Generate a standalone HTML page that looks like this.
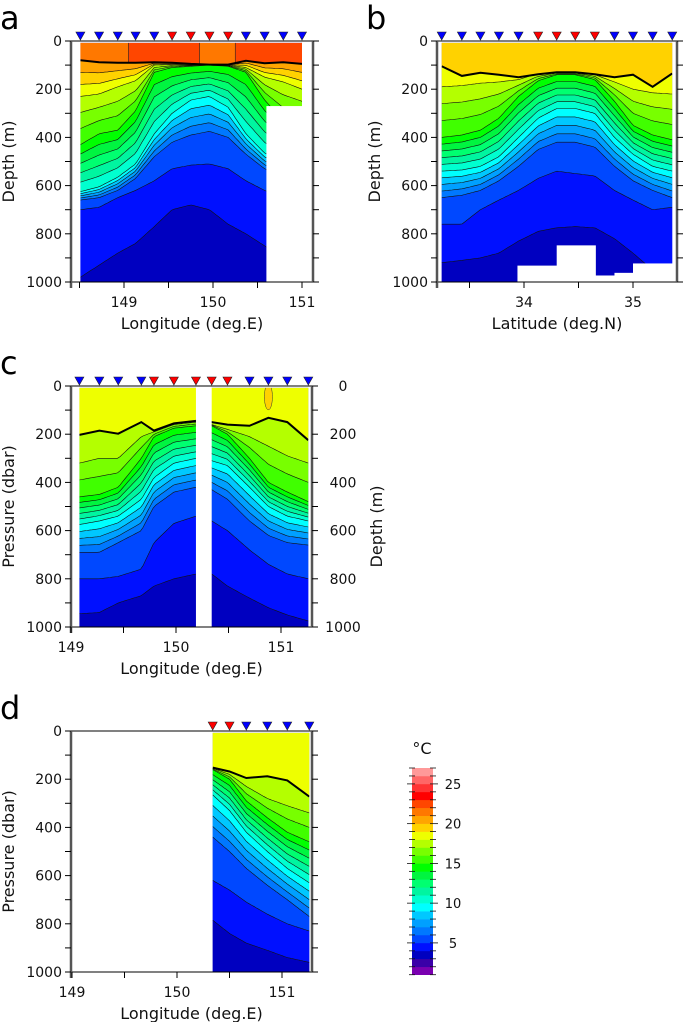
<!DOCTYPE html>
<html><head><meta charset="utf-8">
<style>
html,body{margin:0;padding:0;background:#fff;}
svg{display:block;font-family:"DejaVu Sans","Liberation Sans",sans-serif;}
</style></head>
<body>
<svg id="root" width="685" height="1022" viewBox="0 0 685 1022" xmlns="http://www.w3.org/2000/svg">
<defs id="defs"></defs>
</svg>
<script>
// ---------- Panel a (longitude section, depth) ----------
const aLon=[148.51,148.72,148.93,149.13,149.34,149.54,149.75,149.96,150.17,150.37,150.58,150.79,151.0];
const aMarker=['b','b','b','b','b','r','r','r','r','b','b','b','b'];
const aAnchorT=[21,18,15,10,6,5,4,3];
const aMld=[80,88,90,90,88,90,95,98,98,82,92,88,95];
const aT18=[230,220,190,165,100,98,98,100,100,110,150,170,200];
const aT15=[430,385,370,290,130,110,105,100,105,130,245,330,350];
const aT10=[625,605,565,510,385,300,245,230,275,385,465,500,500];
const aT6=[660,650,620,570,480,420,390,375,400,470,530,560,560];
const aT5=[700,690,650,620,580,530,515,510,530,580,620,650,650];
const aT4=[980,930,880,840,770,700,680,700,760,800,850,900,900];
const aT3=[1100,1100,1100,1100,1100,1100,1100,1100,1100,1100,1100,1100,1100];
const aSurfFrom=[148.51,149.05,149.85,150.25];
const aSurfTo=[149.05,149.85,150.25,151.0];
const aSurfT=[21,22,21,22];
const aNoDataFrom=[150.6];
const aNoDataTo=[151.0];
const aNoDataDepth=[270];

// ---------- Panel b (latitude section, depth) ----------
const bLat=[33.245,33.43,33.6,33.77,33.95,34.13,34.30,34.47,34.65,34.83,35.0,35.18,35.36];
const bMarker=['b','b','b','b','b','r','r','r','r','b','b','b','b'];
const bAnchorT=[19,18,15,10,6,5,4,3];
const bMld=[105,145,132,140,150,138,130,130,138,150,140,190,135];
const bT18=[190,185,175,170,160,135,130,130,140,170,200,215,220];
const bT15=[400,390,370,320,230,165,140,140,160,250,350,390,410];
const bT10=[540,535,520,480,400,320,280,280,300,400,470,520,540];
const bT6=[650,640,620,580,520,450,420,420,440,520,580,620,650];
const bT5=[760,760,700,660,620,570,540,550,560,620,660,700,690];
const bT4=[920,910,900,880,830,790,775,770,775,820,880,950,980];
const bT3=[1100,1100,1100,1100,1100,1100,1100,1100,1100,1100,1100,1100,1100];
const bNoDataFrom=[33.94,34.30,34.65,34.83,35.0];
const bNoDataTo=[34.30,34.65,34.83,35.0,35.37];
const bNoDataDepth=[932,848,973,962,923];

// ---------- Panel c (longitude section, pressure) ----------
const cLon=[149.08,149.27,149.45,149.67,149.79,149.98,150.19,150.34,150.49,150.70,150.88,151.06,151.26];
const cMarker=['b','b','b','b','r','r','r','r','r','b','b','b','b'];
const cAnchorT=[18,17,15,10,6,5,4,3];
const cMld=[203,185,198,150,185,155,145,150,160,165,132,150,225];
const cT17=[320,300,300,210,190,160,150,160,180,210,250,290,320];
const cT15=[460,450,420,300,210,175,165,165,200,300,400,440,480];
const cT10=[575,560,540,470,380,320,300,310,330,420,500,540,560];
const cT6=[690,690,650,600,500,440,420,430,470,560,620,650,660];
const cT5=[800,800,790,760,650,570,540,560,600,680,740,780,800];
const cT4=[945,940,900,870,830,800,780,780,830,880,920,950,975];
const cT3=[1100,1100,1100,1100,1100,1100,1100,1100,1100,1100,1100,1100,1100];
const cGapFrom=[150.19];
const cGapTo=[150.34];

// ---------- Panel d (longitude section, pressure) ----------
const dLon=[150.34,150.50,150.66,150.86,151.05,151.26];
const dMarker=['r','r','b','b','b','b'];
const dAnchorT=[18,17,15,10,6,5,4,3];
const dMld=[152,168,195,188,205,272];
const dT17=[155,180,230,280,310,340];
const dT15=[160,200,290,360,420,460];
const dT10=[265,330,420,500,570,630];
const dT6=[440,500,570,640,700,770];
const dT5=[620,660,710,760,800,830];
const dT4=[785,840,880,910,940,960];
const dT3=[1100,1100,1100,1100,1100,1000];

// ---------- Colour scale ----------
const cbLevels=[1,2,3,4,5,6,7,8,9,10,11,12,13,14,15,16,17,18,19,20,21,22,23,24,25,26];
const cbColors=['#7a00b0','#3a00a8','#0000c0','#0010ff','#0048ff','#0078ff','#00a0ff','#00c8ff','#00ffff','#00ffd0','#00f5a0','#00ff70','#00f540','#00ff00','#40ff00','#78ff00','#b4ff00','#eeff00','#ffd200','#ffa500','#ff7800','#ff4600','#ff0000','#ff3333','#ff6666','#ff9999'];
const cbTickLabels=[5,10,15,20,25];

const NS='http://www.w3.org/2000/svg';
const root=document.getElementById('root');
function mk(tag,attrs,parent){const e=document.createElementNS(NS,tag);for(const k in attrs)e.setAttribute(k,attrs[k]);(parent||root).appendChild(e);return e;}
function colorOf(T){const i=Math.max(0,Math.min(cbColors.length-1,Math.floor(T)-1));return cbColors[i];}
function lerpArr(xs,ys,x){if(x<=xs[0])return ys[0];for(let i=0;i<xs.length-1;i++){if(x<=xs[i+1]){const f=(x-xs[i])/(xs[i+1]-xs[i]);return ys[i]+f*(ys[i+1]-ys[i]);}}return ys[ys.length-1];}
function depthOf(T,anchT,D){
  if(T>=anchT[0])return D[0];
  for(let i=0;i<anchT.length-1;i++){if(T>=anchT[i+1]){const f=(anchT[i]-T)/(anchT[i]-anchT[i+1]);return D[i]+f*(D[i+1]-D[i]);}}
  return D[D.length-1]+(anchT[anchT.length-1]-T)*150;
}

function drawPanel(p){
  const g=mk('g',{});
  
  
  const sx=v=>p.px0+(v-p.v0)*p.ppu;
  const sy=z=>p.y0+z*0.241;
  const xs=p.st, N=90;
  const first=xs[0], last=xs[xs.length-1];
  const cols=[];
  for(let i=0;i<=N;i++){
    const v=first+(last-first)*i/N;
    const D=p.depths.map(arr=>lerpArr(xs,arr,v));
    for(let j=1;j<D.length;j++)D[j]=Math.max(D[j],D[j-1]);
    cols.push({v,D});
  }
  const clipId='clip-'+p.name;
  const cp=mk('clipPath',{id:clipId},document.getElementById('defs'));
  mk('rect',{x:sx(first),y:sy(8),width:sx(last)-sx(first),height:sy(1000)-sy(8)},cp);
  const fg=mk('g',{'clip-path':'url(#'+clipId+')'},g);
  const bg=mk('rect',{x:sx(first),y:sy(0),width:sx(last)-sx(first),height:sy(1000)-sy(0),fill:colorOf(3.5)},fg);
  
  
  const Ttop=p.anchT[0];
  const cl=d=>Math.min(1000,d);
  for(let k=2;k<Ttop;k++){
    let pts=[];
    cols.forEach(c=>pts.push(sx(c.v).toFixed(1)+','+sy(cl(depthOf(k+1,p.anchT,c.D))).toFixed(1)));
    for(let i=cols.length-1;i>=0;i--){const c=cols[i];pts.push(sx(c.v).toFixed(1)+','+sy(cl(depthOf(k,p.anchT,c.D))).toFixed(1));}
    const band=mk('polygon',{points:pts.join(' '),fill:colorOf(k+0.5),stroke:colorOf(k+0.5),'stroke-width':0.4},fg);
    
    
  }
  // surface mixed layer
  const segs=p.surf;
  segs.forEach(s=>{
    const mldA=lerpArr(xs,p.depths[0],s.a), mldB=lerpArr(xs,p.depths[0],s.b);
    let pts=[sx(s.a).toFixed(1)+','+sy(0).toFixed(1), sx(s.a).toFixed(1)+','+sy(mldA).toFixed(1)];
    cols.filter(c=>c.v>s.a&&c.v<s.b).forEach(c=>pts.push(sx(c.v).toFixed(1)+','+sy(c.D[0]).toFixed(1)));
    pts.push(sx(s.b).toFixed(1)+','+sy(mldB).toFixed(1));
    pts.push(sx(s.b).toFixed(1)+','+sy(0).toFixed(1));
    const sp=mk('polygon',{points:pts.join(' '),fill:colorOf(s.T+0.5),stroke:colorOf(s.T+0.5),'stroke-width':0.5},fg);
    
    
  });
  for(let i=1;i<segs.length;i++){
    const b=mk('line',{x1:sx(segs[i].a),x2:sx(segs[i].a),y1:sy(8),y2:sy(lerpArr(xs,p.depths[0],segs[i].a)),stroke:'#222','stroke-width':0.6},fg);
    
    
  }
  for(let k=3;k<Ttop;k++){
    const pts=cols.map(c=>sx(c.v).toFixed(1)+','+sy(depthOf(k,p.anchT,c.D)).toFixed(1)).join(' ');
    const l=mk('polyline',{points:pts,fill:'none',stroke:'#111','stroke-width':0.6},fg);
    
    
  }
  const ml=mk('polyline',{points:xs.map((v,i)=>sx(v).toFixed(1)+','+sy(p.depths[0][i]).toFixed(1)).join(' '),fill:'none',stroke:'#000','stroke-width':2},fg);
  
  
  (p.extra||[]).forEach(f=>f(fg,sx,sy));
  (p.noData||[]).forEach(n=>{
    const r=mk('rect',{x:sx(n.a),y:sy(n.z),width:sx(n.b)-sx(n.a)+1,height:sy(1000)-sy(n.z)+1,fill:'#fff'},g);
    
    
  });
  (p.gaps||[]).forEach(n=>{
    const r=mk('rect',{x:sx(n.a),y:sy(0)+1,width:sx(n.b)-sx(n.a),height:sy(1000)-sy(0)-1,fill:'#fff'},g);
    
    
  });
  const L=p.left,R=p.right,T0=sy(0),B=sy(1000);
  const fr=mk('g',{},g);
  
  
  mk('line',{x1:L,x2:R+1,y1:T0,y2:T0,stroke:'#000','stroke-width':1},fr);
  mk('line',{x1:L,x2:R+1,y1:B,y2:B,stroke:'#000','stroke-width':1},fr);
  mk('line',{x1:L,x2:L,y1:T0,y2:B+6,stroke:'#555','stroke-width':2.5},fr);
  mk('line',{x1:R,x2:R,y1:T0,y2:B,stroke:'#555','stroke-width':2.5},fr);
  for(let z=0;z<=1000;z+=100){
    mk('line',{x1:L-6,x2:L,y1:sy(z),y2:sy(z),stroke:'#000','stroke-width':1},fr);
    mk('line',{x1:R,x2:R+6,y1:sy(z),y2:sy(z),stroke:'#000','stroke-width':1},fr);
    if(z%200===0){
      const t=mk('text',{x:L-9,y:sy(z)+5,'text-anchor':'end','font-size':14,fill:'#111'},fr);
      t.textContent=z;
      
      
      if(p.rightLabels){
        const t2=mk('text',{x:R+31,y:sy(z)+5,'text-anchor':'middle','font-size':14,fill:'#111'},fr);
        t2.textContent=z;
        
        
      }
    }
  }
  p.xticks.forEach(v=>{mk('line',{x1:sx(v),x2:sx(v),y1:B,y2:B+6,stroke:'#000','stroke-width':1},fr);});
  p.xlabels.forEach(v=>{
    const t=mk('text',{x:sx(v),y:B+25,'text-anchor':'middle','font-size':14,fill:'#111'},fr);
    t.textContent=v;
    
    
  });
  xs.forEach((v,i)=>{
    const x=sx(v);
    const m=mk('polygon',{points:(x-4.5)+','+(T0-9)+' '+(x+4.5)+','+(T0-9)+' '+x+','+(T0-1),fill:p.markers[i]==='r'?'#ff0000':'#0000ff',stroke:'#222','stroke-width':0.6},g);
    
    
  });
  const xl=mk('text',{x:(L+R)/2,y:B+47,'text-anchor':'middle','font-size':16,fill:'#111'},g);
  xl.textContent=p.xtitle;
  
  
  const yl=mk('text',{x:0,y:0,'text-anchor':'middle','font-size':16,fill:'#111',transform:'translate('+p.ytx+','+(T0+B)/2+') rotate(-90)'},g);
  yl.textContent=p.ytitle;
  
  
  if(p.rightTitle){
    const yr=mk('text',{x:0,y:0,'text-anchor':'middle','font-size':16,fill:'#111',transform:'translate('+(R+70)+','+((T0+B)/2+20)+') rotate(-90)'},g);
    yr.textContent=p.rightTitle;
    
    
  }
  const lt=mk('text',{x:p.letterX,y:T0-12,'font-size':32,fill:'#000'},g);
  lt.textContent=p.letter;
  
  
}

drawPanel({name:'panel-a',letter:'a',letterX:0,px0:124,v0:149,ppu:89,y0:41,left:71,right:313,
  st:aLon,markers:aMarker,anchT:aAnchorT,depths:[aMld,aT18,aT15,aT10,aT6,aT5,aT4,aT3],
  surf:aSurfFrom.map((a,i)=>({a,b:aSurfTo[i],T:aSurfT[i]})),
  noData:aNoDataFrom.map((a,i)=>({a,b:aNoDataTo[i]+0.02,z:aNoDataDepth[i]})),
  xticks:[148.5,149,149.5,150,150.5,151],xlabels:[149,150,151],xtitle:'Longitude (deg.E)',ytitle:'Depth (m)',ytx:14});
drawPanel({name:'panel-b',letter:'b',letterX:366,px0:524,v0:34,ppu:109,y0:41,left:437,right:677,
  st:bLat,markers:bMarker,anchT:bAnchorT,depths:[bMld,bT18,bT15,bT10,bT6,bT5,bT4,bT3],
  surf:[{a:bLat[0],b:bLat[bLat.length-1],T:19}],
  noData:bNoDataFrom.map((a,i)=>({a,b:bNoDataTo[i],z:bNoDataDepth[i]})),
  xticks:[33.5,34,34.5,35],xlabels:[34,35],xtitle:'Latitude (deg.N)',ytitle:'Depth (m)',ytx:380});
drawPanel({name:'panel-c',letter:'c',letterX:0,px0:176,v0:150,ppu:105,y0:386,left:71,right:312,
  st:cLon,markers:cMarker,anchT:cAnchorT,depths:[cMld,cT17,cT15,cT10,cT6,cT5,cT4,cT3],
  surf:[{a:cLon[0],b:cLon[cLon.length-1],T:18}],
  gaps:cGapFrom.map((a,i)=>({a,b:cGapTo[i]})),
  extra:[(fg,sx,sy)=>{const e=mk('ellipse',{cx:sx(150.88),cy:sy(45),rx:4,ry:13,fill:'#ffd200',stroke:'#333','stroke-width':0.5},fg);}],
  xticks:[149,149.5,150,150.5,151],xlabels:[149,150,151],xtitle:'Longitude (deg.E)',ytitle:'Pressure (dbar)',ytx:14,rightLabels:true,rightTitle:'Depth (m)'});
drawPanel({name:'panel-d',letter:'d',letterX:0,px0:177,v0:150,ppu:105,y0:731,left:71,right:312,
  st:dLon,markers:dMarker,anchT:dAnchorT,depths:[dMld,dT17,dT15,dT10,dT6,dT5,dT4,dT3],
  surf:[{a:dLon[0],b:dLon[dLon.length-1],T:18}],
  xticks:[149,149.5,150,150.5,151],xlabels:[149,150,151],xtitle:'Longitude (deg.E)',ytitle:'Pressure (dbar)',ytx:14});

(function(){
  const g=mk('g',{});
  
  
  const x0=412,w=21,yTop=768,per=7.95;
  const yOf=t=>yTop+(27-t)*per;
  cbLevels.forEach((lv,i)=>{
    const r=mk('rect',{x:x0,y:yOf(lv+1),width:w,height:per+0.3,fill:cbColors[i]},g);
    
    
  });
  for(let t=1;t<=27;t++){
    const big=t%5===0;
    mk('line',{x1:x0-(big?5:3),x2:x0+3,y1:yOf(t),y2:yOf(t),stroke:'#111','stroke-width':0.8},g);
    mk('line',{x1:x0+w-3,x2:x0+w+(big?5:3),y1:yOf(t),y2:yOf(t),stroke:'#111','stroke-width':0.8},g);
  }
  cbTickLabels.forEach(v=>{
    const t=mk('text',{x:453,y:yOf(v)+5,'text-anchor':'middle','font-size':13,fill:'#111'},g);
    t.textContent=v;
    
    
  });
  const u=mk('text',{x:422,y:754,'text-anchor':'middle','font-size':16,fill:'#111'},g);
  u.textContent='°C';
  
  
})();
</script>
</body></html>
